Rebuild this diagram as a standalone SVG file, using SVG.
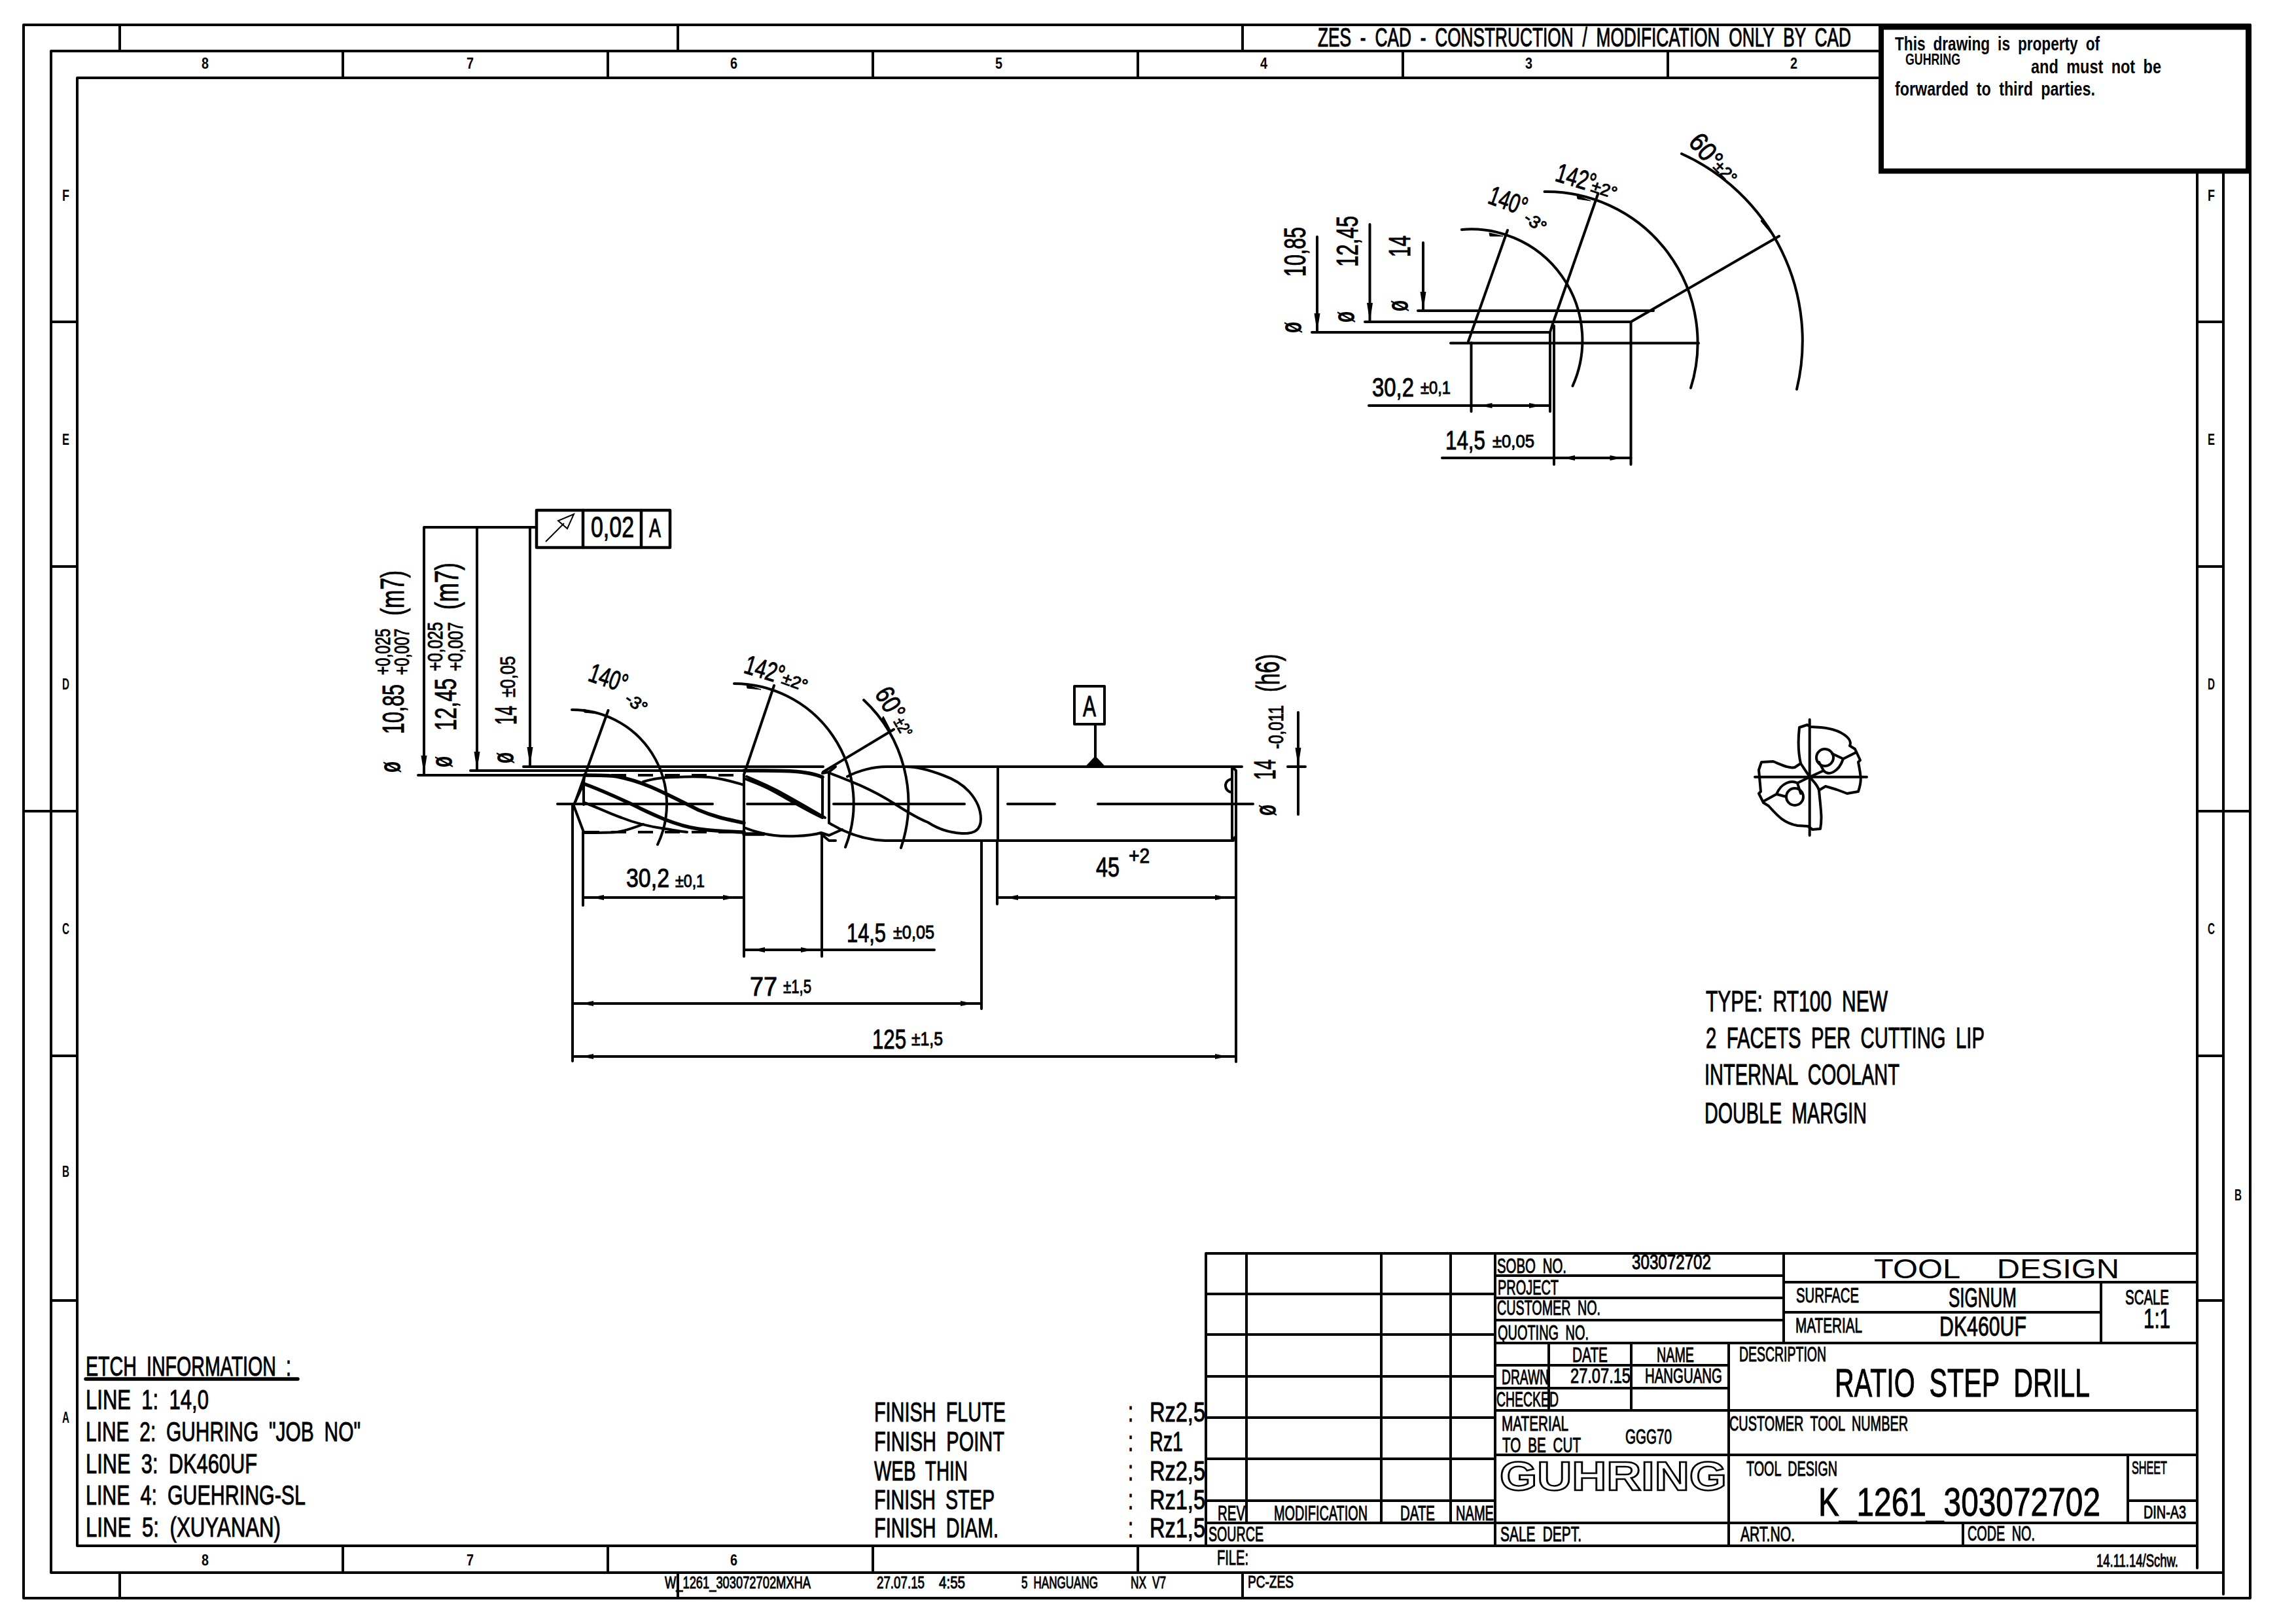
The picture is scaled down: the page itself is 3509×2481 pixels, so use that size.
<svg xmlns="http://www.w3.org/2000/svg" width="3509" height="2481" viewBox="0 0 3509 2481">
<style>
text{font-family:"Liberation Sans",Arial,sans-serif;fill:#000;stroke:#000;stroke-width:1;word-spacing:.25em}
.b{font-weight:700;stroke-width:0}
.thin{stroke-width:0}
.l{fill:none;stroke:#000;stroke-width:4;stroke-linecap:round;stroke-linejoin:round}
.th{fill:none;stroke:#000;stroke-width:5.500;stroke-linecap:round;stroke-linejoin:round}
.d{fill:none;stroke:#000;stroke-width:4;stroke-dasharray:23 18}
.logo{fill:#fff;stroke:#000;stroke-width:2.500;font-weight:700;word-spacing:0}
.f{fill:#000;stroke:#000;stroke-width:1}
</style>
<defs>
<marker id="dim" markerUnits="userSpaceOnUse" orient="auto-start-reverse" viewBox="-34 -5 36 10" refX="0" refY="0" markerWidth="36" markerHeight="10"><path d="M-32 -4 L-13 0 L-32 4Z"/></marker>
<marker id="lead" markerUnits="userSpaceOnUse" orient="auto-start-reverse" viewBox="-30 -5 32 10" refX="0" refY="0" markerWidth="32" markerHeight="10"><path d="M-29 -4.5 L0 0 L-29 4.5Z"/></marker>
</defs>
<rect width="3509" height="2481" fill="#fff"/>
<g id="frame">
<path class="l" d="M36 38H3439V2443H36Z"/>
<path class="l" d="M78 78H3398V2437M3398 2404H78V78"/>
<path class="l" d="M118 119H3358V2397M3358 2363H118V119"/>
<path class="l" d="M183 38V78M1036 38V78M1899 38V78M183 2404V2443M1036 2404V2443M1899 2404V2443"/>
<path class="l" d="M524 78V119M929 78V119M1334 78V119M1739 78V119M2144 78V119M2549 78V119M2954 78V119M524 2363V2404M929 2363V2404M1334 2363V2404M1739 2363V2404"/>
<path class="l" d="M78 492H118M78 866H118M36 1240H118M78 1614H118M78 1988H118M3358 492H3398M3358 866H3398M3358 1240H3439M3358 1614H3398M3358 1988H3398"/>
<g font-size="24">
<text class="b" x="308" y="105" textLength="11" lengthAdjust="spacingAndGlyphs">8</text>
<text class="b" x="713" y="105" textLength="11" lengthAdjust="spacingAndGlyphs">7</text>
<text class="b" x="1116" y="105" textLength="11" lengthAdjust="spacingAndGlyphs">6</text>
<text class="b" x="1521" y="105" textLength="11" lengthAdjust="spacingAndGlyphs">5</text>
<text class="b" x="1926" y="105" textLength="11" lengthAdjust="spacingAndGlyphs">4</text>
<text class="b" x="2331" y="105" textLength="11" lengthAdjust="spacingAndGlyphs">3</text>
<text class="b" x="2736" y="105" textLength="11" lengthAdjust="spacingAndGlyphs">2</text>
<text class="b" x="308" y="2393" textLength="11" lengthAdjust="spacingAndGlyphs">8</text>
<text class="b" x="713" y="2393" textLength="11" lengthAdjust="spacingAndGlyphs">7</text>
<text class="b" x="1116" y="2393" textLength="11" lengthAdjust="spacingAndGlyphs">6</text>
<text class="b" x="95" y="307" textLength="11" lengthAdjust="spacingAndGlyphs">F</text>
<text class="b" x="95" y="680" textLength="11" lengthAdjust="spacingAndGlyphs">E</text>
<text class="b" x="95" y="1054" textLength="11" lengthAdjust="spacingAndGlyphs">D</text>
<text class="b" x="95" y="1428" textLength="11" lengthAdjust="spacingAndGlyphs">C</text>
<text class="b" x="95" y="1799" textLength="11" lengthAdjust="spacingAndGlyphs">B</text>
<text class="b" x="95" y="2175" textLength="11" lengthAdjust="spacingAndGlyphs">A</text>
<text class="b" x="3374" y="307" textLength="11" lengthAdjust="spacingAndGlyphs">F</text>
<text class="b" x="3374" y="680" textLength="11" lengthAdjust="spacingAndGlyphs">E</text>
<text class="b" x="3374" y="1054" textLength="11" lengthAdjust="spacingAndGlyphs">D</text>
<text class="b" x="3374" y="1428" textLength="11" lengthAdjust="spacingAndGlyphs">C</text>
<text class="b" x="3415" y="1835" textLength="11" lengthAdjust="spacingAndGlyphs">B</text>
</g>
<text x="2014" y="71" font-size="40" textLength="815" lengthAdjust="spacingAndGlyphs">ZES - CAD - CONSTRUCTION / MODIFICATION ONLY BY CAD</text>
</g>
<g id="notice">
<rect x="2875" y="41.500" width="561" height="220" fill="#fff" stroke="#000" stroke-width="8"/>
<text class="b" x="2896" y="77" font-size="30" textLength="313" lengthAdjust="spacingAndGlyphs">This drawing is property of</text>
<text class="b" x="2912" y="99" font-size="24" textLength="84" lengthAdjust="spacingAndGlyphs">GUHRING</text>
<text class="b" x="3104" y="112" font-size="30" textLength="199" lengthAdjust="spacingAndGlyphs">and must not be</text>
<text class="b" x="2896" y="146" font-size="30" textLength="306" lengthAdjust="spacingAndGlyphs">forwarded to third parties.</text>
</g>
<g id="title-block">
<path class="l" d="M1843 1916H3358M1843 1916V2363H3358M1905 1916V2328M2111 1916V2328M2217 1916V2328M2285 1916V2363"/>
<path class="l" d="M1843 1978H2285M1843 2040H2285M1843 2104H2285M1843 2167H2285M1843 2230H2285M1843 2294H2285M1843 2328H3358"/>
<path class="l" d="M2285 1950H2726M2285 1984H2726M2285 2018H2726M2285 2053H3358M2726 1916V2053M2726 1960H3358M2726 2006H3211M3211 1960V2053"/>
<path class="l" d="M2285 2087H2642M2285 2122H2642M2285 2156H3358M2285 2224H3358M2367 2053V2156M2493 2053V2156M2642 2053V2328M3252 2224V2328M3252 2294H3358M2642 2328V2363M3000 2328V2363"/>
<g font-size="32">
<text x="2288" y="1946" textLength="106" lengthAdjust="spacingAndGlyphs">SOBO NO.</text>
<text x="2494" y="1940" textLength="121" lengthAdjust="spacingAndGlyphs">303072702</text>
<text x="2289" y="1979" textLength="93" lengthAdjust="spacingAndGlyphs">PROJECT</text>
<text x="2288" y="2010" textLength="158" lengthAdjust="spacingAndGlyphs">CUSTOMER NO.</text>
<text x="2289" y="2048" textLength="139" lengthAdjust="spacingAndGlyphs">QUOTING NO.</text>
<text x="2403" y="2082" textLength="54" lengthAdjust="spacingAndGlyphs">DATE</text>
<text x="2532" y="2082" textLength="57" lengthAdjust="spacingAndGlyphs">NAME</text>
<text x="2295" y="2116" textLength="72" lengthAdjust="spacingAndGlyphs">DRAWN</text>
<text x="2400" y="2114" textLength="92" lengthAdjust="spacingAndGlyphs">27.07.15</text>
<text x="2514" y="2114" textLength="118" lengthAdjust="spacingAndGlyphs">HANGUANG</text>
<text x="2287" y="2150" textLength="95" lengthAdjust="spacingAndGlyphs">CHECKED</text>
<text x="2295" y="2187" textLength="102" lengthAdjust="spacingAndGlyphs">MATERIAL</text>
<text x="2296" y="2220" textLength="120" lengthAdjust="spacingAndGlyphs">TO BE CUT</text>
<text x="2484" y="2207" textLength="71" lengthAdjust="spacingAndGlyphs">GGG70</text>
<text x="1861" y="2324" textLength="42" lengthAdjust="spacingAndGlyphs">REV</text>
<text x="1947" y="2324" textLength="143" lengthAdjust="spacingAndGlyphs">MODIFICATION</text>
<text x="2140" y="2324" textLength="53" lengthAdjust="spacingAndGlyphs">DATE</text>
<text x="2225" y="2324" textLength="58" lengthAdjust="spacingAndGlyphs">NAME</text>
<text x="1847" y="2356" textLength="84" lengthAdjust="spacingAndGlyphs">SOURCE</text>
<text x="2293" y="2356" textLength="124" lengthAdjust="spacingAndGlyphs">SALE DEPT.</text>
<text x="1860" y="2392" textLength="48" lengthAdjust="spacingAndGlyphs">FILE:</text>
<text x="2745" y="1991" textLength="96" lengthAdjust="spacingAndGlyphs">SURFACE</text>
<text x="2744" y="2037" textLength="102" lengthAdjust="spacingAndGlyphs">MATERIAL</text>
<text x="3248" y="1994" textLength="67" lengthAdjust="spacingAndGlyphs">SCALE</text>
<text x="2658" y="2081" textLength="133" lengthAdjust="spacingAndGlyphs">DESCRIPTION</text>
<text x="2643" y="2187" textLength="273" lengthAdjust="spacingAndGlyphs">CUSTOMER TOOL NUMBER</text>
<text x="2669" y="2256" textLength="139" lengthAdjust="spacingAndGlyphs">TOOL DESIGN</text>
<text x="3258" y="2253" textLength="54" font-size="28" lengthAdjust="spacingAndGlyphs">SHEET</text>
<text x="3276" y="2321" textLength="65" font-size="28" lengthAdjust="spacingAndGlyphs">DIN-A3</text>
<text x="2660" y="2356" textLength="83" lengthAdjust="spacingAndGlyphs">ART.NO.</text>
<text x="3007" y="2355" textLength="103" lengthAdjust="spacingAndGlyphs">CODE NO.</text>
<text x="3204" y="2395" font-size="28" textLength="125" lengthAdjust="spacingAndGlyphs">14.11.14/Schw.</text>
</g>
<g font-size="26">
<text x="1907" y="2427" textLength="70" lengthAdjust="spacingAndGlyphs">PC-ZES</text>
<text x="1016" y="2428" textLength="223" lengthAdjust="spacingAndGlyphs">W_1261_303072702MXHA</text>
<text x="1340" y="2428" textLength="73" lengthAdjust="spacingAndGlyphs">27.07.15</text>
<text x="1435" y="2428" textLength="40" lengthAdjust="spacingAndGlyphs">4:55</text>
<text x="1561" y="2428" textLength="117" lengthAdjust="spacingAndGlyphs">5 HANGUANG</text>
<text x="1728" y="2428" textLength="54" lengthAdjust="spacingAndGlyphs">NX V7</text>
</g>
<text class="thin" x="2864" y="1954" font-size="43" textLength="375" lengthAdjust="spacingAndGlyphs" style="word-spacing:.9em">TOOL DESIGN</text>
<text x="2978" y="1998" font-size="43" textLength="104" lengthAdjust="spacingAndGlyphs">SIGNUM</text>
<text x="2964" y="2042" font-size="43" textLength="133" lengthAdjust="spacingAndGlyphs">DK460UF</text>
<text x="3276" y="2030" font-size="43" textLength="41" lengthAdjust="spacingAndGlyphs">1:1</text>
<text x="2804" y="2135" font-size="61" textLength="390" lengthAdjust="spacingAndGlyphs">RATIO STEP DRILL</text>
<text x="2779" y="2317" font-size="61" textLength="431" lengthAdjust="spacingAndGlyphs">K_1261_303072702</text>
<text class="logo" x="2292" y="2278" font-size="63" textLength="347" lengthAdjust="spacingAndGlyphs">GUHRING</text>
</g>
<g id="etch-information">
<g font-size="43">
<text x="131" y="2103" textLength="314" lengthAdjust="spacingAndGlyphs">ETCH INFORMATION :</text>
<text x="131" y="2154" textLength="188" lengthAdjust="spacingAndGlyphs">LINE 1: 14,0</text>
<text x="131" y="2203" textLength="420" lengthAdjust="spacingAndGlyphs">LINE 2: GUHRING "JOB NO"</text>
<text x="131" y="2252" textLength="262" lengthAdjust="spacingAndGlyphs">LINE 3: DK460UF</text>
<text x="131" y="2300" textLength="336" lengthAdjust="spacingAndGlyphs">LINE 4: GUEHRING-SL</text>
<text x="131" y="2349" textLength="298" lengthAdjust="spacingAndGlyphs">LINE 5: (XUYANAN)</text>
</g>
<path class="th" d="M131 2108H455"/>
</g>
<g id="finish-notes" font-size="43">
<text x="1336" y="2173" textLength="201" lengthAdjust="spacingAndGlyphs">FINISH FLUTE</text>
<text x="1336" y="2218" textLength="199" lengthAdjust="spacingAndGlyphs">FINISH POINT</text>
<text x="1336" y="2263" textLength="143" lengthAdjust="spacingAndGlyphs">WEB THIN</text>
<text x="1336" y="2307" textLength="184" lengthAdjust="spacingAndGlyphs">FINISH STEP</text>
<text x="1336" y="2350" textLength="190" lengthAdjust="spacingAndGlyphs">FINISH DIAM.</text>
<text x="1724" y="2173" textLength="8" lengthAdjust="spacingAndGlyphs">:</text>
<text x="1724" y="2218" textLength="8" lengthAdjust="spacingAndGlyphs">:</text>
<text x="1724" y="2263" textLength="8" lengthAdjust="spacingAndGlyphs">:</text>
<text x="1724" y="2307" textLength="8" lengthAdjust="spacingAndGlyphs">:</text>
<text x="1724" y="2350" textLength="8" lengthAdjust="spacingAndGlyphs">:</text>
<text x="1757" y="2173" textLength="85" lengthAdjust="spacingAndGlyphs">Rz2,5</text>
<text x="1757" y="2218" textLength="51" lengthAdjust="spacingAndGlyphs">Rz1</text>
<text x="1757" y="2263" textLength="85" lengthAdjust="spacingAndGlyphs">Rz2,5</text>
<text x="1757" y="2307" textLength="85" lengthAdjust="spacingAndGlyphs">Rz1,5</text>
<text x="1757" y="2350" textLength="85" lengthAdjust="spacingAndGlyphs">Rz1,5</text>
</g>
<g id="type-notes" font-size="45">
<text x="2607" y="1546" textLength="278" lengthAdjust="spacingAndGlyphs">TYPE: RT100 NEW</text>
<text x="2607" y="1602" textLength="426" lengthAdjust="spacingAndGlyphs">2 FACETS PER CUTTING LIP</text>
<text x="2605" y="1658" textLength="298" lengthAdjust="spacingAndGlyphs">INTERNAL COOLANT</text>
<text x="2605" y="1717" textLength="248" lengthAdjust="spacingAndGlyphs">DOUBLE MARGIN</text>
</g>
<g id="drill-side-view">
<path class="l" d="M877 1230L892 1198L893 1185M877 1232L892 1272M892 1198V1230"/>
<path class="d" d="M893 1185H1137M893 1272H1137"/>
<path class="th" d="M893 1185C915 1185 930 1185 943 1187C985 1195 1015 1212 1067 1238C1095 1250 1115 1253 1137 1258"/>
<path class="th" d="M892 1198C920 1208 945 1220 967 1230C990 1242 1005 1248 1017 1253C1040 1262 1060 1266 1067 1267C1095 1271 1115 1271 1137 1272"/>
<path class="l" d="M893 1227C915 1235 930 1243 950 1250C975 1260 995 1264 1017 1267C1030 1269 1040 1271 1050 1272"/>
<path class="l" d="M983 1195C1000 1190 1015 1188 1033 1188C1050 1187 1070 1187 1083 1188C1105 1190 1120 1195 1137 1200V1185"/>
<path class="l" d="M892 1273C915 1273 930 1273 943 1272C955 1270 970 1265 983 1260"/>
<path class="l" d="M1137 1190C1150 1195 1165 1200 1183 1210C1210 1225 1235 1240 1257 1250M1141 1187C1155 1193 1170 1199 1187 1208C1215 1223 1240 1238 1261 1250"/>
<path class="l" d="M1257 1187V1250M1267 1180V1258"/>
<path class="th" d="M1137 1178C1180 1178 1230 1176 1257 1188"/>
<path class="l" d="M1137 1265C1150 1270 1165 1275 1183 1277C1200 1279 1235 1279 1255 1273L1267 1277L1287 1268M1255 1275L1267 1285H1277"/>
<path class="th" d="M1137 1275H1167"/>
<path class="l" d="M1257 1182L1267 1180L1277 1172"/>
<path class="l" d="M1267 1258C1290 1272 1320 1284 1353 1285H1885M1355 1172H1898"/>
<path class="l" d="M1266 1181C1295 1192 1330 1205 1366 1228C1385 1240 1400 1250 1418 1257C1435 1268 1450 1273 1470 1274C1490 1275 1499 1268 1499 1252C1499 1235 1490 1220 1481 1210C1470 1198 1455 1190 1441 1185C1420 1177 1400 1172 1384 1172H1355C1335 1172 1312 1178 1295 1187"/>
<path class="l" d="M1525 1172V1285M1883 1172V1285M1889 1178V1278L1883 1285M1883 1172L1889 1178"/>
<path class="l" d="M1883 1191A10 10 0 1 0 1883 1211"/>
<path class="l" d="M852 1229H1089M1142 1229H1220M1274 1229H1474M1540 1229H1612M1678 1229H1915"/>
</g>
<g id="drill-dimensions">
<path class="l" d="M648 806H820M648 806V1184M729 806V1178M810 806V1171"/>
<path class="l" d="M648 840V1184" marker-end="url(#lead)"/>
<path class="l" d="M729 840V1178" marker-end="url(#lead)"/>
<path class="l" d="M810 840V1171" marker-end="url(#lead)"/>
<path class="l" d="M800 1172H1258M719 1178H1137M639 1185H893"/>
<path class="l" d="M875 1230V1622M891 1272V1384M1137 1200V1462M1256 1278V1462M1500 1285V1542M1524 1285V1382M1889 1278V1623"/>
<path class="l" d="M891 1372H1137" marker-start="url(#dim)" marker-end="url(#dim)"/>
<path class="l" d="M1137 1452H1256" marker-start="url(#dim)" marker-end="url(#dim)"/>
<path class="l" d="M1256 1452H1428"/>
<path class="l" d="M875 1534H1500" marker-start="url(#dim)" marker-end="url(#dim)"/>
<path class="l" d="M875 1615H1889" marker-start="url(#dim)" marker-end="url(#dim)"/>
<path class="l" d="M1524 1372H1889" marker-start="url(#dim)" marker-end="url(#dim)"/>
<path class="l" d="M874 1085A144 144 0 0 1 1005 1291M929.500 1086L878 1229"/>
<path class="l" d="M1122 1045A183 183 0 0 1 1292 1295M1183 1048L1137 1184"/>
<path class="l" d="M1320 1070A215 215 0 0 1 1377 1296M1366 1115L1258 1180"/>
<path class="f" d="M892 1084L914 1091L893 1089ZM1141 1047L1163 1054L1142 1052ZM1350 1095L1362 1118L1347 1100Z"/>
<path class="l" d="M1984 1089V1172" marker-end="url(#lead)"/>
<path class="l" d="M1984 1172V1245M1968 1172H1995"/>
<path class="l" d="M1674 1107V1172"/>
<path class="f" d="M1659 1172L1674 1156L1689 1172Z"/>
<rect class="l" x="1642" y="1049" width="46" height="58"/>
<rect class="th" style="stroke-width:4.500" x="820" y="780" width="204" height="57"/>
<path class="th" style="stroke-width:4.500" d="M891 780V837M980 780V837"/>
<path fill="none" stroke="#000" stroke-width="2" d="M834 828L862 800M877 786L853 796L867 808Z"/>
<text x="903" y="821" font-size="45" textLength="66" lengthAdjust="spacingAndGlyphs">0,02</text>
<text x="992" y="821" font-size="40" textLength="18" lengthAdjust="spacingAndGlyphs">A</text>
<text x="1655" y="1095" font-size="44" textLength="20" lengthAdjust="spacingAndGlyphs">A</text>
<text x="957" y="1356" font-size="40" textLength="66" lengthAdjust="spacingAndGlyphs">30,2</text>
<text x="1032" y="1356" font-size="28" textLength="45" lengthAdjust="spacingAndGlyphs">±0,1</text>
<text x="1294" y="1440" font-size="41" textLength="60" lengthAdjust="spacingAndGlyphs">14,5</text>
<text x="1365" y="1435" font-size="30" textLength="63" lengthAdjust="spacingAndGlyphs">±0,05</text>
<text x="1146" y="1522" font-size="41" textLength="42" lengthAdjust="spacingAndGlyphs">77</text>
<text x="1197" y="1518" font-size="30" textLength="43" lengthAdjust="spacingAndGlyphs">±1,5</text>
<text x="1333" y="1603" font-size="43" textLength="52" lengthAdjust="spacingAndGlyphs">125</text>
<text x="1393" y="1598" font-size="30" textLength="48" lengthAdjust="spacingAndGlyphs">±1,5</text>
<text x="1675" y="1340" font-size="42" textLength="36" lengthAdjust="spacingAndGlyphs">45</text>
<text x="1725" y="1319" font-size="31" textLength="32" lengthAdjust="spacingAndGlyphs">+2</text>
<g font-size="46">
<text transform="translate(617 1122) rotate(-90)" textLength="76" lengthAdjust="spacingAndGlyphs">10,85</text>
<text transform="translate(697 1117) rotate(-90)" textLength="80" lengthAdjust="spacingAndGlyphs">12,45</text>
<text transform="translate(789 1108) rotate(-90)" textLength="29" lengthAdjust="spacingAndGlyphs">14</text>
<text transform="translate(1949 1192) rotate(-90)" textLength="31" lengthAdjust="spacingAndGlyphs">14</text>
</g>
<g font-size="50">
<text transform="translate(617 941) rotate(-90)" textLength="69" lengthAdjust="spacingAndGlyphs">(m7)</text>
<text transform="translate(700 932) rotate(-90)" textLength="72" lengthAdjust="spacingAndGlyphs">(m7)</text>
<text transform="translate(1955 1058) rotate(-90)" textLength="58" lengthAdjust="spacingAndGlyphs">(h6)</text>
</g>
<g font-size="32">
<text transform="translate(596 1032) rotate(-90)" textLength="71" lengthAdjust="spacingAndGlyphs">+0,025</text>
<text transform="translate(625 1032) rotate(-90)" textLength="71" lengthAdjust="spacingAndGlyphs">+0,007</text>
<text transform="translate(676 1026) rotate(-90)" textLength="75" lengthAdjust="spacingAndGlyphs">+0,025</text>
<text transform="translate(707 1026) rotate(-90)" textLength="75" lengthAdjust="spacingAndGlyphs">+0,007</text>
<text transform="translate(787 1066) rotate(-90)" textLength="63" lengthAdjust="spacingAndGlyphs">±0,05</text>
<text transform="translate(1961 1145) rotate(-90)" textLength="67" lengthAdjust="spacingAndGlyphs">-0,011</text>
</g>
<g font-size="46">
<text class="b" transform="translate(612 1181) rotate(-90)" textLength="17" lengthAdjust="spacingAndGlyphs">ø</text>
<text class="b" transform="translate(691 1173) rotate(-90)" textLength="17" lengthAdjust="spacingAndGlyphs">ø</text>
<text class="b" transform="translate(785 1167) rotate(-90)" textLength="17" lengthAdjust="spacingAndGlyphs">ø</text>
<text class="b" transform="translate(1950 1247) rotate(-90)" textLength="17" lengthAdjust="spacingAndGlyphs">ø</text>
</g>
<text transform="translate(897 1040) rotate(19)" font-size="41" textLength="60" lengthAdjust="spacingAndGlyphs">140°</text>
<text transform="translate(953 1072) rotate(35)" font-size="26" textLength="35" lengthAdjust="spacingAndGlyphs">-3°</text>
<text transform="translate(1135 1028) rotate(17)" font-size="41" textLength="62" lengthAdjust="spacingAndGlyphs">142°</text>
<text transform="translate(1193 1044) rotate(20)" font-size="26" textLength="40" lengthAdjust="spacingAndGlyphs">±2°</text>
<text transform="translate(1336 1060) rotate(60)" font-size="41" textLength="50" lengthAdjust="spacingAndGlyphs">60°</text>
<text transform="translate(1365 1103) rotate(60)" font-size="26" textLength="30" lengthAdjust="spacingAndGlyphs">±2°</text>
</g>
<g id="tip-detail">
<path class="l" d="M2167 475H2527M2086 492H2492.500M2005 508H2369M2217 524.500H2596"/>
<path class="l" d="M2013 362V508" marker-end="url(#lead)"/>
<path class="l" d="M2093.500 343V492" marker-end="url(#lead)"/>
<path class="l" d="M2175 371V475" marker-end="url(#lead)"/>
<path class="l" d="M2234 351A170 170 0 0 1 2403.500 590M2304 352L2244 522"/>
<path class="l" d="M2360.500 293A231 231 0 0 1 2584 593M2442 297L2372 498L2369 508"/>
<path class="l" d="M2570 235A314 314 0 0 1 2746 595M2492.500 492L2719 361"/>
<path class="f" d="M2276 356L2297 361L2277 361ZM2410 299L2431 307L2411 304ZM2694 333L2706 356L2691 338Z"/>
<path class="l" d="M2248.500 524V629M2369 508V629M2375 498V710M2492.500 492V710"/>
<path class="l" d="M2092 620H2248.500"/>
<path class="l" d="M2248.500 620H2369" marker-start="url(#dim)" marker-end="url(#dim)"/>
<path class="l" d="M2204 700H2375"/>
<path class="l" d="M2375 700H2492.500" marker-start="url(#dim)" marker-end="url(#dim)"/>
<text transform="translate(1995 423) rotate(-90)" font-size="46" textLength="76" lengthAdjust="spacingAndGlyphs">10,85</text>
<text transform="translate(2075 408) rotate(-90)" font-size="46" textLength="78" lengthAdjust="spacingAndGlyphs">12,45</text>
<text transform="translate(2155 393) rotate(-90)" font-size="46" textLength="33" lengthAdjust="spacingAndGlyphs">14</text>
<text class="b" transform="translate(1989 509) rotate(-90)" font-size="46" textLength="17" lengthAdjust="spacingAndGlyphs">ø</text>
<text class="b" transform="translate(2070 493) rotate(-90)" font-size="46" textLength="17" lengthAdjust="spacingAndGlyphs">ø</text>
<text class="b" transform="translate(2152 476) rotate(-90)" font-size="46" textLength="17" lengthAdjust="spacingAndGlyphs">ø</text>
<text x="2097" y="606" font-size="41" textLength="64" lengthAdjust="spacingAndGlyphs">30,2</text>
<text x="2171" y="602" font-size="28" textLength="46" lengthAdjust="spacingAndGlyphs">±0,1</text>
<text x="2209" y="687" font-size="41" textLength="61" lengthAdjust="spacingAndGlyphs">14,5</text>
<text x="2281" y="684" font-size="28" textLength="64" lengthAdjust="spacingAndGlyphs">±0,05</text>
<text transform="translate(2272 310) rotate(20)" font-size="41" textLength="60" lengthAdjust="spacingAndGlyphs">140°</text>
<text transform="translate(2327 337) rotate(35)" font-size="26" textLength="35" lengthAdjust="spacingAndGlyphs">-3°</text>
<text transform="translate(2375 276) rotate(17)" font-size="41" textLength="62" lengthAdjust="spacingAndGlyphs">142°</text>
<text transform="translate(2430 292) rotate(18)" font-size="26" textLength="40" lengthAdjust="spacingAndGlyphs">±2°</text>
<text transform="translate(2579 218) rotate(50)" font-size="41" textLength="55" lengthAdjust="spacingAndGlyphs">60°</text>
<text transform="translate(2617 256) rotate(45)" font-size="26" textLength="38" lengthAdjust="spacingAndGlyphs">±2°</text>
</g>
<g id="end-view">
<path class="l" d="M2682 1187.700H2853M2765.700 1100V1277"/>
<path class="l" d="M2750 1112L2762 1108L2767 1111L2783 1112C2815 1115 2832 1130 2827 1140L2835 1145L2843 1162L2840 1165C2845 1190 2845 1195 2840 1210L2823 1213L2807 1207L2790 1202L2780 1208C2783 1240 2785 1250 2782 1267L2770 1268L2763 1263L2747 1262C2725 1258 2715 1245 2703 1232L2695 1227L2688 1213L2691 1210L2688 1177L2692 1165L2710 1164C2725 1170 2735 1175 2743 1173L2752 1167C2748 1150 2748 1130 2750 1112Z"/>
<path class="l" d="M2752 1167L2765.700 1187.700C2772 1195 2778 1200 2780 1208"/>
<circle class="l" cx="2789" cy="1158" r="13"/>
<circle class="l" cx="2743" cy="1218" r="13"/>
<path class="l" d="M2817 1160L2837 1150M2817 1160C2810 1180 2795 1187 2787 1178L2780 1165M2800 1152L2817 1160M2765.700 1187.700L2787 1178"/>
<path class="l" d="M2715 1214L2695 1225M2715 1214C2722 1197 2737 1192 2747 1197L2752 1213M2730 1218L2715 1214M2747 1197L2765.700 1187.700"/>
</g>
</svg>
